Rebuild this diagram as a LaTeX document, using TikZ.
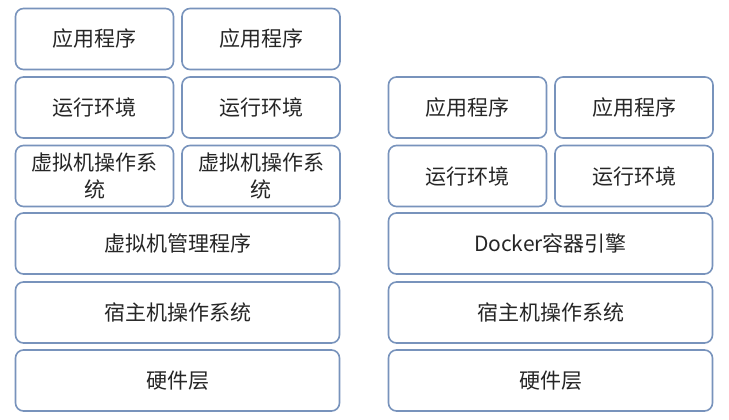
\documentclass[tikz,border=0pt]{standalone}
\usepackage{fontspec}
\setmainfont{Noto Sans CJK SC}
\usepackage{tikz}
\definecolor{stackEdge}{HTML}{7893BC}
\definecolor{stackInk}{HTML}{262626}
\tikzset{
  stack diagram/.style={x=1pt, y=-1pt, font=\fontsize{21}{27}\selectfont,
    text=stackInk, line join=round},
  stack box/.style={draw=stackEdge, fill=white, line width=1.6pt,
    rounded corners=8pt, align=center, inner sep=0pt,
    minimum height=61pt},
  stack half/.style={stack box, minimum width=158pt},
  stack full/.style={stack box, minimum width=324pt}
}

\begin{document}
\begin{tikzpicture}[stack diagram]
\useasboundingbox[fill=white] (0,0) rectangle (729,420);
% virtual machines
\node[stack half] (vmAppA) at (94.5,39) {应用程序};
\node[stack half] (vmAppB) at (261,39) {应用程序};
\node[stack half] (vmEnvA) at (94.5,107.5) {运行环境};
\node[stack half] (vmEnvB) at (261,107.5) {运行环境};
\node[stack half] (vmOsA) at (94.5,176) {虚拟机操作系\\统};
\node[stack half] (vmOsB) at (261,176) {虚拟机操作系\\统};
\node[stack full] (vmHyper) at (177.5,243.5) {虚拟机管理程序};
\node[stack full] (vmHost) at (177.5,312.5) {宿主机操作系统};
\node[stack full] (vmHw) at (177.5,380.5) {硬件层};
% containers
\node[stack half] (ctAppA) at (467.5,107.5) {应用程序};
\node[stack half] (ctAppB) at (634,107.5) {应用程序};
\node[stack half] (ctEnvA) at (467.5,176) {运行环境};
\node[stack half] (ctEnvB) at (634,176) {运行环境};
\node[stack full] (ctEngine) at (550.5,243.5) {Docker容器引擎};
\node[stack full] (ctHost) at (550.5,312.5) {宿主机操作系统};
\node[stack full] (ctHw) at (550.5,380.5) {硬件层};
\end{tikzpicture}
\end{document}
